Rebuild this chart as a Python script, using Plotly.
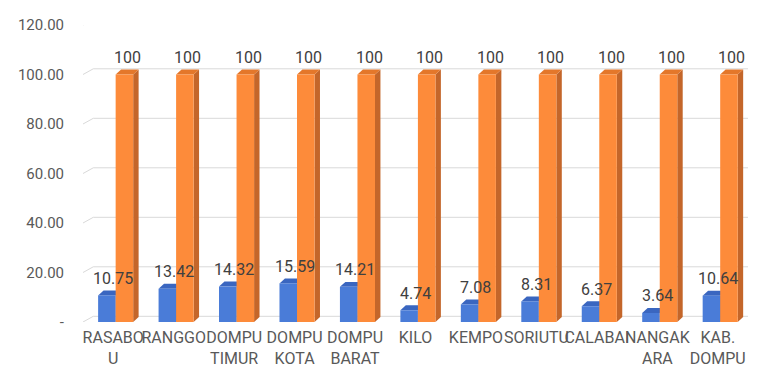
import plotly.graph_objects as go

categories = ["RASABO<br>U", "RANGGO", "DOMPU<br>TIMUR", "DOMPU<br>KOTA", "DOMPU<br>BARAT",
              "KILO", "KEMPO", "SORIUTU", "CALABAI", "NANGAK<br>ARA", "KAB.<br>DOMPU"]
blue_values = [10.75, 13.42, 14.32, 15.59, 14.21, 4.74, 7.08, 8.31, 6.37, 3.64, 10.64]
orange_values = [100, 100, 100, 100, 100, 100, 100, 100, 100, 100, 100]
blue_labels = ["10.75", "13.42", "14.32", "15.59", "14.21", "4.74", "7.08", "8.31", "6.37", "3.64", "10.64"]
orange_labels = ["100"] * 11
y_tickvals = [0, 20, 40, 60, 80, 100, 120]
y_ticktext = ["-", "20.00", "40.00", "60.00", "80.00", "100.00", "120.00"]

FONT = "Roboto"
BLUE, BLUE_TOP, BLUE_SIDE = "#4A7CD8", "#3A66C0", "#3358A8"
ORANGE, ORANGE_TOP, ORANGE_SIDE = "#FD8B3A", "#E4772A", "#C4662A"
GRID = "#D9D9D9"

n = len(categories)
xs = list(range(n))
W = 0.29
B_OFF = -0.25
O_OFF = B_OFF + W
# 3D depth in data units
DX, DY = 0.09, 2.0          # bar depth
GDX, GDY = 0.17, 2.3        # wall/grid depth

fig = go.Figure()
fig.add_trace(go.Bar(x=xs, y=blue_values, offset=B_OFF, width=W,
                     marker=dict(color=BLUE, line=dict(width=0)), name="blue"))
fig.add_trace(go.Bar(x=xs, y=orange_values, offset=O_OFF, width=W,
                     marker=dict(color=ORANGE, line=dict(width=0)), name="orange"))

shapes = []
xmin, xmax = -0.5, n - 0.5
for v in y_tickvals:
    shapes.append(dict(type="line", xref="x", yref="y", x0=xmin, y0=v, x1=xmin + GDX, y1=v + GDY,
                       line=dict(color=GRID, width=1), layer="below"))
    shapes.append(dict(type="line", xref="x", yref="y", x0=xmin + GDX, y0=v + GDY, x1=xmax + GDX, y1=v + GDY,
                       line=dict(color=GRID, width=1), layer="below"))

def faces(x0, x1, v, top_c, side_c):
    side = f"M {x1},0 L {x1+DX},{DY} L {x1+DX},{v+DY} L {x1},{v} Z"
    top = f"M {x0},{v} L {x0+DX},{v+DY} L {x1+DX},{v+DY} L {x1},{v} Z"
    return [dict(type="path", path=side, xref="x", yref="y", fillcolor=side_c, line=dict(width=0), layer="below"),
            dict(type="path", path=top, xref="x", yref="y", fillcolor=top_c, line=dict(width=0), layer="below")]

for i in xs:
    shapes += faces(i + B_OFF, i + B_OFF + W, blue_values[i], BLUE_TOP, BLUE_SIDE)
    shapes += faces(i + O_OFF, i + O_OFF + W, orange_values[i], ORANGE_TOP, ORANGE_SIDE)

annotations = []
for i in xs:
    annotations.append(dict(x=i, y=blue_values[i], xref="x", yref="y", text=blue_labels[i],
                            showarrow=False, yshift=17, yanchor="middle",
                            font=dict(family=FONT, size=16, color="#404040")))
    annotations.append(dict(x=i + 0.235, y=orange_values[i], xref="x", yref="y", text=orange_labels[i],
                            showarrow=False, yshift=17, yanchor="middle",
                            font=dict(family=FONT, size=16, color="#404040")))

fig.update_layout(
    width=772, height=364,
    margin=dict(l=75, r=32, t=17, b=50),
    paper_bgcolor="white", plot_bgcolor="white",
    showlegend=False,
    barmode="overlay",
    shapes=shapes,
    annotations=annotations,
    font=dict(family=FONT, size=15, color="#595959"),
    xaxis=dict(range=[xmin, xmax], tickvals=xs, ticktext=categories, showgrid=False,
               zeroline=False, showline=False, ticks="", tickangle=0, ticklabelstandoff=4,
               automargin=False,
               tickfont=dict(family=FONT, size=16, color="#595959")),
    yaxis=dict(range=[0, 120], tickvals=y_tickvals, ticktext=y_ticktext, showgrid=False,
               zeroline=False, showline=False, ticks="", ticklabelstandoff=18,
               automargin=False,
               tickfont=dict(family=FONT, size=15, color="#595959")),
)

fig.write_html("out.html")
